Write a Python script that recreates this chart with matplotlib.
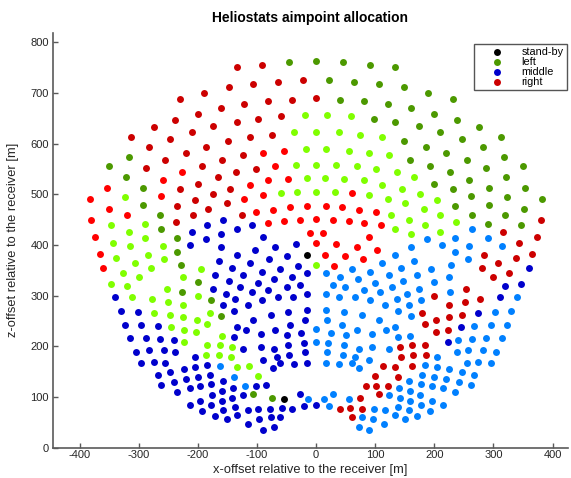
import matplotlib
matplotlib.use("Agg")
import matplotlib.pyplot as plt

plt.rcParams['font.family'] = ['Liberation Sans', 'DejaVu Sans']
plt.rcParams['axes.unicode_minus'] = False

# ---- data (x-offset, z-offset) in metres, per aimpoint class ----
standby = [(-15, 381), (-55, 97)]

left_dark = [
    (-46, 760), (0, 763), (-317, 574), (-350, 555), (-321, 534), (-292, 513), (-292, 479),
    (-264, 459), (-263, 431), (-235, 414), (-235, 386), (-228, 361), (-200, 327), (-227, 307),
    (-177, 291), (-161, 260), (-106, 106), (-74, 98),
    (46, 760), (91, 755), (134, 751), (22, 725), (64, 722), (107, 718), (148, 711), (190, 699),
    (231, 687), (40, 686), (81, 684), (122, 677), (161, 670), (200, 658), (239, 646), (275, 632),
    (313, 613), (98, 648), (134, 642), (174, 634), (210, 623), (247, 608), (282, 594), (317, 574),
    (350, 555), (149, 605), (186, 593), (220, 581), (255, 567), (288, 551), (321, 534), (353, 513),
    (382, 491), (159, 567), (193, 555), (226, 543), (259, 528), (292, 513), (323, 494), (351, 471),
    (200, 521), (231, 510), (262, 496), (292, 479), (320, 459), (347, 439), (235, 477), (264, 459),
    (290, 442),
]

left_light = [
    (-19, 656), (0, 623), (-38, 623), (-17, 589), (-323, 494), (0, 557), (-34, 557), (-347, 439),
    (-15, 532), (-290, 442), (-316, 425), (-343, 404), (0, 505), (-32, 504), (-60, 502), (-290, 414),
    (-315, 398), (-338, 375), (-259, 398), (-284, 381), (-307, 365), (-327, 345), (-347, 323),
    (-257, 372), (-280, 354), (-300, 337), (-320, 319), (-195, 352), (-225, 336), (-253, 314),
    (-200, 299), (-311, 297), (-278, 293), (-251, 287), (-225, 281), (0, 360), (-274, 265),
    (-247, 261), (-225, 257), (-202, 252), (-179, 266), (-245, 239), (-223, 233), (-203, 228),
    (-184, 244), (-223, 208), (-159, 220), (-184, 203), (-162, 202), (-142, 199), (-186, 182),
    (-164, 182), (-144, 179), (-134, 159), (-113, 161), (-99, 141),
    (19, 656), (59, 654), (38, 623), (75, 617), (112, 612), (17, 589), (55, 586), (90, 582),
    (124, 577), (34, 557), (69, 555), (102, 550), (136, 543), (166, 534), (15, 532), (47, 530),
    (81, 529), (112, 519), (146, 510), (175, 500), (204, 488), (32, 504), (90, 498), (122, 491),
    (151, 483), (182, 471), (209, 459), (237, 446), (126, 458), (157, 449), (184, 439), (210, 425),
    (134, 431), (161, 421),
]

middle_dark = [
    (-157, 449), (-184, 439), (-210, 425), (-109, 439), (-134, 431), (-161, 421), (-187, 411),
    (-213, 399), (-340, 297),
    (-161, 395), (-134, 381), (-165, 369), (-143, 354), (-171, 340), (-147, 329), (-129, 317),
    (-174, 314), (-153, 304), (-137, 293), (-157, 281),
    (-90, 416), (-103, 390), (-69, 396), (-34, 402), (-112, 365), (-79, 373), (-49, 378),
    (-123, 340), (-91, 346), (-61, 353), (-30, 358), (-99, 325), (-71, 333), (-41, 337), (-16, 344),
    (-108, 307), (-81, 311), (-49, 317), (-28, 320), (-116, 282), (-91, 291), (-65, 297),
    (-39, 298), (-16, 304),
    (-330, 270), (-302, 267), (-139, 270), (-323, 242), (-296, 242), (-267, 240), (-134, 239),
    (-315, 216), (-288, 216), (-264, 215), (-240, 212), (-139, 218), (-305, 189), (-282, 192),
    (-257, 192), (-239, 189), (-296, 168), (-274, 170), (-255, 168), (-204, 179), (-267, 144),
    (-247, 149), (-224, 156), (-204, 160), (-184, 163), (-262, 123), (-241, 130), (-220, 136),
    (-200, 139), (-179, 143), (-157, 132), (-235, 110), (-214, 117), (-196, 122), (-177, 126),
    (-159, 112), (-140, 118), (-176, 103), (-159, 93), (-142, 98), (-196, 92), (-214, 84),
    (-193, 73), (-177, 84), (-157, 74), (-138, 80), (-171, 63), (-151, 56), (-134, 65),
    (-106, 252), (-77, 262), (-47, 268), (-16, 272), (-118, 232), (-94, 224), (-69, 233),
    (-44, 242), (-18, 252), (-50, 222), (-26, 227), (-123, 194), (-94, 199), (-72, 194),
    (-47, 203), (-20, 206), (-90, 173), (-66, 179), (-45, 183), (-19, 189), (-73, 157),
    (-61, 168), (-38, 166), (-16, 168), (-101, 122), (-84, 123), (-123, 104), (-28, 106),
    (-116, 74), (-98, 76), (-78, 77), (-58, 78), (-41, 76), (-21, 82), (-96, 56), (-77, 61),
    (-61, 61), (-115, 47), (-89, 35), (-72, 41), (0, 85),
    (360, 354), (347, 323), (320, 319), (311, 297), (274, 265), (245, 239), (223, 208),
]

middle_light = [
    (-162, 162), (-139, 139), (-121, 122), (-13, 96), (0, 235), (0, 209),
    (263, 431), (290, 414), (315, 398), (235, 414), (259, 398), (187, 411), (213, 399), (235, 386),
    (257, 372), (340, 297),
    (161, 395), (134, 381), (165, 369), (228, 361), (143, 354), (195, 352), (171, 340), (225, 336),
    (147, 329), (200, 327), (129, 317), (174, 314), (227, 307), (153, 304), (137, 293), (177, 291),
    (157, 281),
    (112, 365), (123, 340), (91, 346), (61, 353), (99, 325), (71, 333), (41, 337), (16, 344),
    (108, 307), (81, 311), (49, 317), (28, 320), (116, 282), (91, 291), (65, 297), (39, 298),
    (16, 304),
    (330, 270), (302, 267), (161, 260), (139, 270), (323, 242), (296, 242), (267, 240), (134, 239),
    (315, 216), (288, 216), (264, 215), (240, 212), (159, 220), (139, 218), (305, 189), (282, 192),
    (257, 192), (239, 189), (296, 168), (274, 170), (255, 168), (204, 179), (267, 144), (247, 149),
    (224, 156), (204, 160), (184, 163), (262, 123), (241, 130), (220, 136), (200, 139), (179, 143),
    (157, 132), (235, 110), (214, 117), (196, 122), (177, 126), (159, 112), (140, 118), (176, 103),
    (159, 93), (142, 98), (196, 92), (214, 84), (193, 73), (177, 84), (157, 74), (138, 80),
    (171, 63), (151, 56), (134, 65),
    (106, 252), (77, 262), (47, 268), (16, 272), (118, 232), (94, 224), (69, 233), (44, 242),
    (18, 252), (50, 222), (26, 227), (123, 194), (94, 199), (72, 194), (47, 203), (20, 206),
    (90, 173), (66, 179), (45, 183), (19, 189), (73, 157), (61, 168), (38, 166), (16, 168),
    (123, 104), (55, 97), (28, 106), (13, 96), (116, 74), (98, 76), (21, 82), (96, 56), (77, 61),
    (115, 47), (89, 35), (72, 41),
]

right_dark = [
    (-91, 755), (-134, 751),
    (-22, 725), (-64, 722), (-107, 718), (-148, 711), (-190, 699), (-231, 687),
    (0, 689), (-40, 686), (-81, 684), (-122, 677), (-161, 670), (-200, 658), (-239, 646),
    (-275, 632), (-313, 613),
    (-59, 654), (-98, 648), (-134, 642), (-174, 634), (-210, 623), (-247, 608), (-282, 594),
    (-75, 617), (-112, 612), (-149, 605), (-186, 593), (-220, 581), (-255, 567), (-288, 551),
    (-124, 577), (-159, 567), (-193, 555),
    (-102, 550), (-136, 543), (-166, 534), (-200, 521), (-231, 510),
    (-146, 510), (-175, 500), (-204, 488), (-235, 477),
    (-151, 483), (-182, 471), (-209, 459), (-237, 446), (-126, 458),
    (380, 449), (374, 416), (316, 425), (343, 404), (365, 383), (338, 375), (284, 381), (307, 365),
    (327, 345), (280, 354), (300, 337), (253, 314), (200, 299), (278, 293), (251, 287), (225, 281),
    (247, 261), (225, 257), (202, 252), (179, 266), (223, 233), (203, 228), (184, 244), (184, 203),
    (162, 202), (142, 199), (186, 182), (164, 182), (144, 179), (162, 162), (134, 159), (139, 139),
    (113, 161), (99, 141), (121, 122), (101, 122), (84, 122), (106, 106), (74, 98), (78, 77),
    (58, 78), (41, 76), (61, 61),
]

right_light = [
    (-353, 513), (-382, 491), (-55, 586), (-90, 582), (-226, 543), (-259, 528), (-351, 471),
    (-380, 449), (-69, 555), (-262, 496), (-320, 459), (-374, 416), (-47, 530), (-81, 529),
    (-112, 519), (-365, 383), (-90, 498), (-122, 491), (-360, 354), (-16, 477), (-44, 474),
    (-73, 469), (-102, 464), (0, 452), (-28, 450), (-55, 448), (-81, 444), (-11, 424), (0, 403),
    (60, 502), (16, 477), (44, 474), (73, 469), (102, 464), (28, 450), (55, 448), (81, 444),
    (109, 439), (90, 416), (11, 424), (103, 390), (69, 396), (34, 402), (79, 373), (49, 378),
    (15, 381), (30, 358),
]

x_ticks = [-400, -300, -200, -100, 0, 100, 200, 300, 400]
y_ticks = [0, 100, 200, 300, 400, 500, 600, 700, 800]

# ---- figure ----
fig = plt.figure(figsize=(5.71, 4.78), dpi=100)
ax = fig.add_axes([0.0928, 0.0634, 0.9019, 0.8676])

series = [
    (left_light, '#80FF00', '_nolegend_'),
    (middle_light, '#0080FF', '_nolegend_'),
    (right_light, '#FF0000', '_nolegend_'),
    (standby, '#000000', 'stand-by'),
    (left_dark, '#4C9900', 'left'),
    (middle_dark, '#0000CC', 'middle'),
    (right_dark, '#CC0000', 'right'),
]
handles = {}
for pts, col, lab in series:
    xs = [p[0] for p in pts]
    ys = [p[1] for p in pts]
    h = ax.scatter(xs, ys, s=25, c=col, linewidths=0, label=lab, zorder=3)
    handles[lab] = h

ax.set_xlim(-445, 426)
ax.set_ylim(0, 818)
ax.set_xticks(x_ticks)
ax.set_yticks(y_ticks)
for side in ('top', 'right'):
    ax.spines[side].set_visible(False)
for side in ('left', 'bottom'):
    ax.spines[side].set_color('#5a5a5a')
    ax.spines[side].set_linewidth(1.2)
ax.tick_params(direction='in', length=3.5, width=1.0, colors='#5a5a5a',
               labelcolor='#262626', labelsize=8)
ax.tick_params(axis='x', pad=1.5)
ax.tick_params(axis='y', pad=3)

fig.text(310.5 / 571, 1 - 18 / 478, 'Heliostats aimpoint allocation',
         ha='center', va='center', fontsize=10, fontweight='bold', color='#000000')
fig.text(310.5 / 571, 1 - 469.5 / 478, 'x-offset relative to the receiver [m]',
         ha='center', va='center', fontsize=9.3, color='#262626')
fig.text(13 / 571, 1 - 240 / 478, 'z-offset relative to the receiver [m]',
         ha='center', va='center', rotation=90, fontsize=9.3, color='#262626')

leg = ax.legend([handles['stand-by'], handles['left'], handles['middle'], handles['right']],
                ['stand-by', 'left', 'middle', 'right'],
                loc='upper right', bbox_to_anchor=(0.9975, 0.9735), fontsize=7.8,
                frameon=True, fancybox=False, framealpha=1, edgecolor='#555555',
                handlelength=3.6, handletextpad=0.45, labelspacing=0.0, borderpad=0.3,
                scatterpoints=1, borderaxespad=0)
leg.get_frame().set_linewidth(1.0)

fig.savefig('out.png', dpi=100)
